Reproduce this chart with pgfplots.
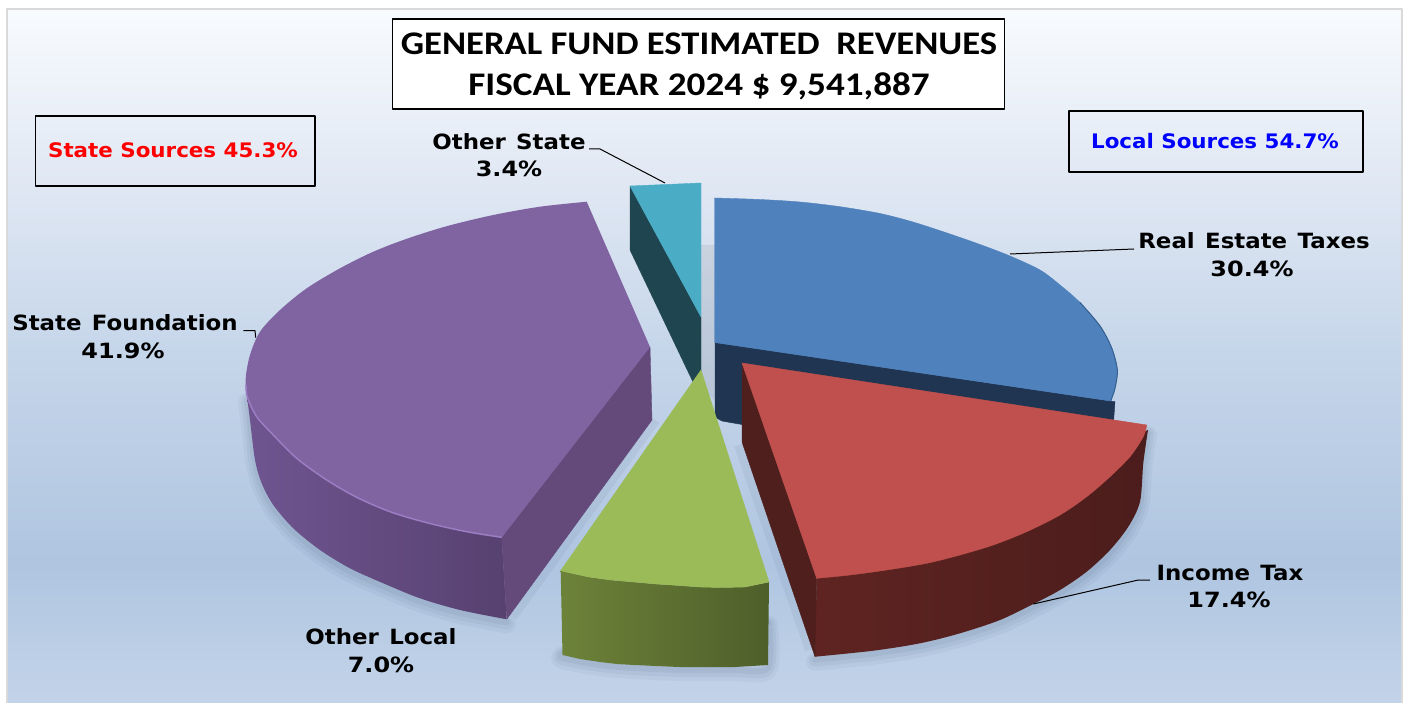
\documentclass[border=0pt]{standalone}
\usepackage{pgfplots}
\usepackage{pgfplotstable}
\usepackage{fontspec}
\pgfplotsset{compat=1.18}
\setmainfont{DejaVu Sans}
\newfontfamily\titleA[FakeStretch=1.11]{Carlito}
\newfontfamily\titleB[FakeStretch=1.125]{Carlito}
\newfontfamily\namefont[FakeStretch=1.09,WordSpace=1.3]{DejaVu Sans}
\newfontfamily\pctfont[FakeStretch=1.14]{DejaVu Sans}
\newfontfamily\srcfont[FakeStretch=1.07]{DejaVu Sans}
\definecolor{bg0}{HTML}{C3D4E9}
\definecolor{bg1}{HTML}{AFC5E0}
\definecolor{bg2}{HTML}{C6D6EA}
\definecolor{bg3}{HTML}{DFE7F3}
\definecolor{bg4}{HTML}{F8FBFE}
\definecolor{blueSide}{HTML}{1F3552}
\definecolor{blueTop}{HTML}{4F81BD}
\definecolor{blueEdge}{HTML}{35608F}
\definecolor{tealSide}{HTML}{1F4550}
\definecolor{tealTop}{HTML}{4BACC6}
\definecolor{purpA}{HTML}{6F5590}
\definecolor{purpB}{HTML}{574170}
\definecolor{purpCut}{HTML}{634A7A}
\definecolor{purpTop}{HTML}{8064A2}
\definecolor{purpHi}{HTML}{9A7DC2}
\definecolor{greenA}{HTML}{6D8239}
\definecolor{greenB}{HTML}{4E5F2A}
\definecolor{greenTop}{HTML}{9BBB59}
\definecolor{redA}{HTML}{5F2421}
\definecolor{redB}{HTML}{4B1D1C}
\definecolor{redCut}{HTML}{4F1F1D}
\definecolor{redTop}{HTML}{C0504D}
\definecolor{shade}{HTML}{3A4F70}
\pgfdeclareverticalshading{panel}{100bp}{color(0bp)=(bg0); color(25bp)=(bg0); color(35bp)=(bg1); color(50.5bp)=(bg2); color(62bp)=(bg3); color(75bp)=(bg4); color(100bp)=(bg4)}
\pgfplotstableread{
x y
714.5 198
760 199.5
800 202
840 206.7
880 213.5
913 222
947 233
980 244.5
1010 256
1040 270
1060 285
1080 302.5
1100 326
1111.7 348
1117.3 370
1115 388.3
1110.7 401
}\tBlueArc
\pgfplotstableread{
x y
715 342.5
1115 401.7
1113.3 425
745 425
722 421
715 417
}\tBlueSide
\pgfplotstableread{
x y
586.7 201.7
540 206.7
493.3 215
446.7 226.2
406.7 238.8
373.3 251.7
340 268.3
306.7 288.3
280 310
260 331.7
250 355
245.7 378.3
247.3 397
256.7 416.7
273.3 435
296.7 458.3
326.7 480
356.7 497.3
390 511.7
426.7 522.7
466.7 531.7
501.7 537.3
}\tPurpleArc
\pgfplotstableread{
x y
247 397
250 420
255 460
261.7 483.3
273.3 505
293.3 528.3
320 550
350 568.3
383.3 583.3
420 598.3
460 610
506.7 619.3
}\tPurpleEdge
\pgfplotstableread{
x y
501.7 537.3
650 347
652 420
506.7 619.3
}\tPurpleCut
\pgfplotstableread{
x y
701 370
769 582
745 587
722 587.5
700 587
679 585.5
656 584
634 582
611 580
589 577
575 574
560.7 570.7
}\tGreenTop
\pgfplotstableread{
x y
560.7 570.7
562.5 655
580 659
600 662
617 664
634 665
656 666
679 667
700 667
735 667
768 665
769 582
745 587
722 587.5
700 587
679 585.5
656 584
634 582
611 580
589 577
575 574
}\tGreenSide
\pgfplotstableread{
x y
1146.7 425
1143.3 436.7
1130 456.7
1110 476.7
1086.7 496.7
1060 515
1026.7 531.7
993.3 545
960 555
926.7 563.3
886.7 570
850 575
816.7 578.3
}\tRedArc
\pgfplotstableread{
x y
1148 430
1143.3 463
1140 501.7
1128.3 526.7
1110 550
1086.7 571.7
1060 590
1033.3 604
1000 620
960 633.3
920 643.3
873.3 650.7
815 656.7
}\tRedEdge
\pgfplotstableread{
x y
742 363
742 442
815 656.7
816.7 578.3
}\tRedCut
\pgfplotstableread{
x y
562.5 650
562.5 655
600 662
634 665
679 667
700 667
735 667
768 665
769 620
}\tGreenEdge
\newcommand\softshadow[1]{%
\addplot[smooth,tension=.5,draw=shade,opacity=.05,line width=18pt,line cap=round,yshift=-5pt] table {#1};
\addplot[smooth,tension=.5,draw=shade,opacity=.06,line width=12pt,line cap=round,yshift=-4pt] table {#1};
\addplot[smooth,tension=.5,draw=shade,opacity=.07,line width=6pt,line cap=round,yshift=-3pt] table {#1};
}
\begin{document}
\begin{tikzpicture}[line join=round]
\begin{axis}[width=1413pt,height=703pt,scale only axis,xmin=0,xmax=1413,ymin=0,ymax=703,y dir=reverse,axis lines=none,clip=true]
% page and panel
\addplot[fill=white,draw=none] coordinates {(0,0)(1413,0)(1413,703)(0,703)} -- cycle;
\addplot[shading=panel,draw=none] coordinates {(7,9)(1402,9)(1402,703)(7,703)} -- cycle;
\addplot[draw=black!15,line width=1.2pt] coordinates {(7,703)(7,9)(1402,9)(1402,703)};
% soft shadows
\softshadow{\tPurpleEdge}
\softshadow{\tGreenEdge}
\softshadow{\tRedEdge}
\addplot[draw=shade,opacity=.07,line width=10pt] coordinates {(512,617)(655,420)};
\addplot[draw=shade,opacity=.07,line width=10pt] coordinates {(739,445)(810,650)};
\addplot[fill=black!50,draw=none,opacity=.15] coordinates {(701,245)(715,245)(717,420)(738,425)(700,385)} -- cycle;
% blue
\addplot[fill=blueSide,draw=blueSide] table {\tBlueSide} -- cycle;
\addplot[smooth,tension=.5,fill=blueTop,draw=blueTop] table {\tBlueArc};
\addplot[fill=blueTop,draw=blueTop] coordinates {(714.5,198)(950,260)(1110.7,401)(714.5,342.5)} -- cycle;
\addplot[smooth,tension=.5,draw=blueEdge,line width=1pt] coordinates {(1080,302.5)(1100,326)(1111.7,348)(1117.3,370)(1115,388.3)(1110.7,401)};
% teal
\addplot[fill=tealSide,draw=tealSide] coordinates {(630,186)(701,317)(701,372)(693,382)(630,250)} -- cycle;
\addplot[fill=tealTop,draw=tealTop] coordinates {(630,186)(701,183)(701,317)} -- cycle;
% purple
\addplot[left color=purpA,right color=purpB,draw=none] coordinates {(247,397)(501.7,537.3)(506.7,619.3)(400,560)} -- cycle;
\addplot[smooth,tension=.5,left color=purpA,right color=purpB,draw=none] table {\tPurpleEdge};
\addplot[fill=purpCut,draw=purpCut] table {\tPurpleCut} -- cycle;
\addplot[smooth,tension=.5,fill=purpTop,draw=none] table {\tPurpleArc};
\addplot[fill=purpTop,draw=none] coordinates {(586.7,201.7)(450,350)(501.7,537.3)(650,347)} -- cycle;
\addplot[smooth,tension=.5,draw=purpHi,line width=1.5pt] coordinates {(246,385)(247.3,397)(256.7,416.7)(273.3,435)(296.7,458.3)(326.7,480)(356.7,497.3)(390,511.7)(426.7,522.7)(466.7,531.7)(501.7,537.3)};
% green
\addplot[left color=greenA,right color=greenB,draw=none] table {\tGreenSide} -- cycle;
\addplot[fill=greenTop,draw=greenTop] table {\tGreenTop} -- cycle;
% red
\addplot[left color=redA,right color=redB,draw=none] coordinates {(1148,430)(816.7,578.3)(815,656.7)(1000,590)} -- cycle;
\addplot[smooth,tension=.5,left color=redA,right color=redB,draw=none] table {\tRedEdge};
\addplot[fill=redCut,draw=redCut] table {\tRedCut} -- cycle;
\addplot[smooth,tension=.5,fill=redTop,draw=redTop] table {\tRedArc};
\addplot[fill=redTop,draw=redTop] coordinates {(742,363)(1146.7,425)(1000,510)(816.7,578.3)} -- cycle;
% leaders
\addplot[black,line width=1pt] coordinates {(589,149)(600,149)(665,183)};
\addplot[black,line width=1pt] coordinates {(1010,254)(1134,249)};
\addplot[black,line width=1pt] coordinates {(243.3,330.7)(255,330.7)(255.7,337.7)};
\addplot[black,line width=1pt] coordinates {(1033.3,604)(1138.3,580)(1150,580)};
% boxes
\draw[black,line width=1.1pt,fill=white] (axis cs:392.5,19) rectangle (axis cs:1004.5,109);
\draw[black,line width=1.1pt] (axis cs:35.5,116) rectangle (axis cs:315,186);
\draw[black,line width=1.1pt] (axis cs:1069,111) rectangle (axis cs:1363,172);
% title
\node[font=\titleA\bfseries\fontsize{33}{33}\selectfont] at (axis cs:699,44) {GENERAL FUND ESTIMATED\ \ REVENUES};
\node[font=\titleB\bfseries\fontsize{33}{33}\selectfont] at (axis cs:699,86) {FISCAL YEAR 2024 \$ 9,541,887};
\tikzset{lab/.style={font=\namefont\bfseries\fontsize{21}{21}\selectfont,inner sep=0pt,anchor=center},
pct/.style={font=\pctfont\bfseries\fontsize{21}{21}\selectfont,inner sep=0pt,anchor=center},
src/.style={font=\srcfont\bfseries\fontsize{20}{20}\selectfont,inner sep=0pt,anchor=center}}
\node[src,text=red] at (axis cs:173,150) {State Sources 45.3\%};
\node[src,text=blue] at (axis cs:1215,141) {Local Sources 54.7\%};
\node[lab] at (axis cs:509,142) {Other State};
\node[pct] at (axis cs:509,169) {3.4\%};
\node[lab] at (axis cs:1254,241) {Real Estate Taxes};
\node[pct] at (axis cs:1252,269) {30.4\%};
\node[lab] at (axis cs:125,323) {State Foundation};
\node[pct] at (axis cs:123,351) {41.9\%};
\node[lab] at (axis cs:381,637) {Other Local};
\node[pct] at (axis cs:381,665) {7.0\%};
\node[lab] at (axis cs:1230,573) {Income Tax};
\node[pct] at (axis cs:1229,600) {17.4\%};
\end{axis}
\end{tikzpicture}
\end{document}
